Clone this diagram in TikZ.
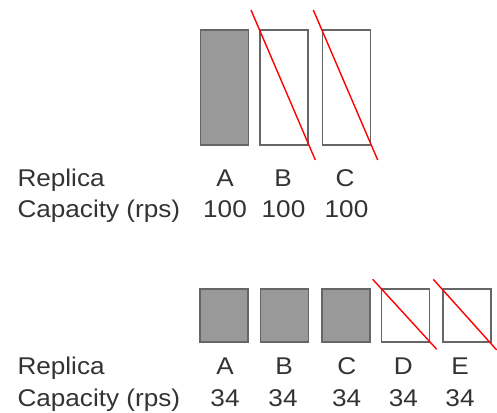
\documentclass[tikz,border=0pt]{standalone}
\usepackage{fontspec}
\setmainfont[FakeStretch=1.08]{Liberation Sans}
\begin{document}
\begin{tikzpicture}[x=1pt,y=-1pt,
  txt/.style={text=txtgray,font=\fontsize{24.2}{24}\selectfont,inner sep=0pt,anchor=base},
  lbl/.style={txt,anchor=base west},
  full/.style={draw=boxline,fill=boxfill,line width=1.6pt,minimum width=48pt,inner sep=0pt},
  empty/.style={draw=boxline,fill=white,line width=1.6pt,minimum width=48pt,inner sep=0pt},
  tall/.style={minimum height=115pt},
  short/.style={minimum height=53pt},
  strike/.style={draw=red,line width=1.4pt}]
\definecolor{txtgray}{HTML}{333333}
\definecolor{boxline}{HTML}{666666}
\definecolor{boxfill}{HTML}{999999}
\useasboundingbox (0,0) rectangle (497,412);
% top row
\node[full,tall]  (tA) at (224.3,87.3) {};
\node[empty,tall] (tB) at (284.2,87.3) {};
\node[empty,tall] (tC) at (346.3,87.3) {};
\draw[strike] (251,10) -- (315.3,160);
\draw[strike] (313.3,10) -- (377.7,160);
\node[lbl] (tRep) at (17.3,186) {Replica};
\node[lbl] (tCap) at (17.3,217) {Capacity (rps)};
\node[txt] (tlA) at (225,186) {A};
\node[txt] (tlB) at (283,186) {B};
\node[txt] (tlC) at (345,186) {C};
\node[txt] (tnA) at (225,217) {100};
\node[txt] (tnB) at (283.5,217) {100};
\node[txt] (tnC) at (346.5,217) {100};
% bottom row
\node[full,short]  (bA) at (224.2,315.5) {};
\node[full,short]  (bB) at (284.3,315.5) {};
\node[full,short]  (bC) at (346,315.5) {};
\node[empty,short] (bD) at (405.3,315.5) {};
\node[empty,short] (bE) at (466.7,315.5) {};
\draw[strike] (372.7,279.3) -- (436.7,349.3);
\draw[strike] (433.3,279.3) -- (496.7,350);
\node[lbl] (bRep) at (17.3,374.3) {Replica};
\node[lbl] (bCap) at (17.3,406) {Capacity (rps)};
\node[txt] (blA) at (225,374.3) {A};
\node[txt] (blB) at (284,374.3) {B};
\node[txt] (blC) at (346.7,374.3) {C};
\node[txt] (blD) at (403.3,374.3) {D};
\node[txt] (blE) at (460,374.3) {E};
\node[txt] (bnA) at (225,406) {34};
\node[txt] (bnB) at (283,406) {34};
\node[txt] (bnC) at (346.7,406) {34};
\node[txt] (bnD) at (403.3,406) {34};
\node[txt] (bnE) at (460,406) {34};
\end{tikzpicture}
\end{document}
